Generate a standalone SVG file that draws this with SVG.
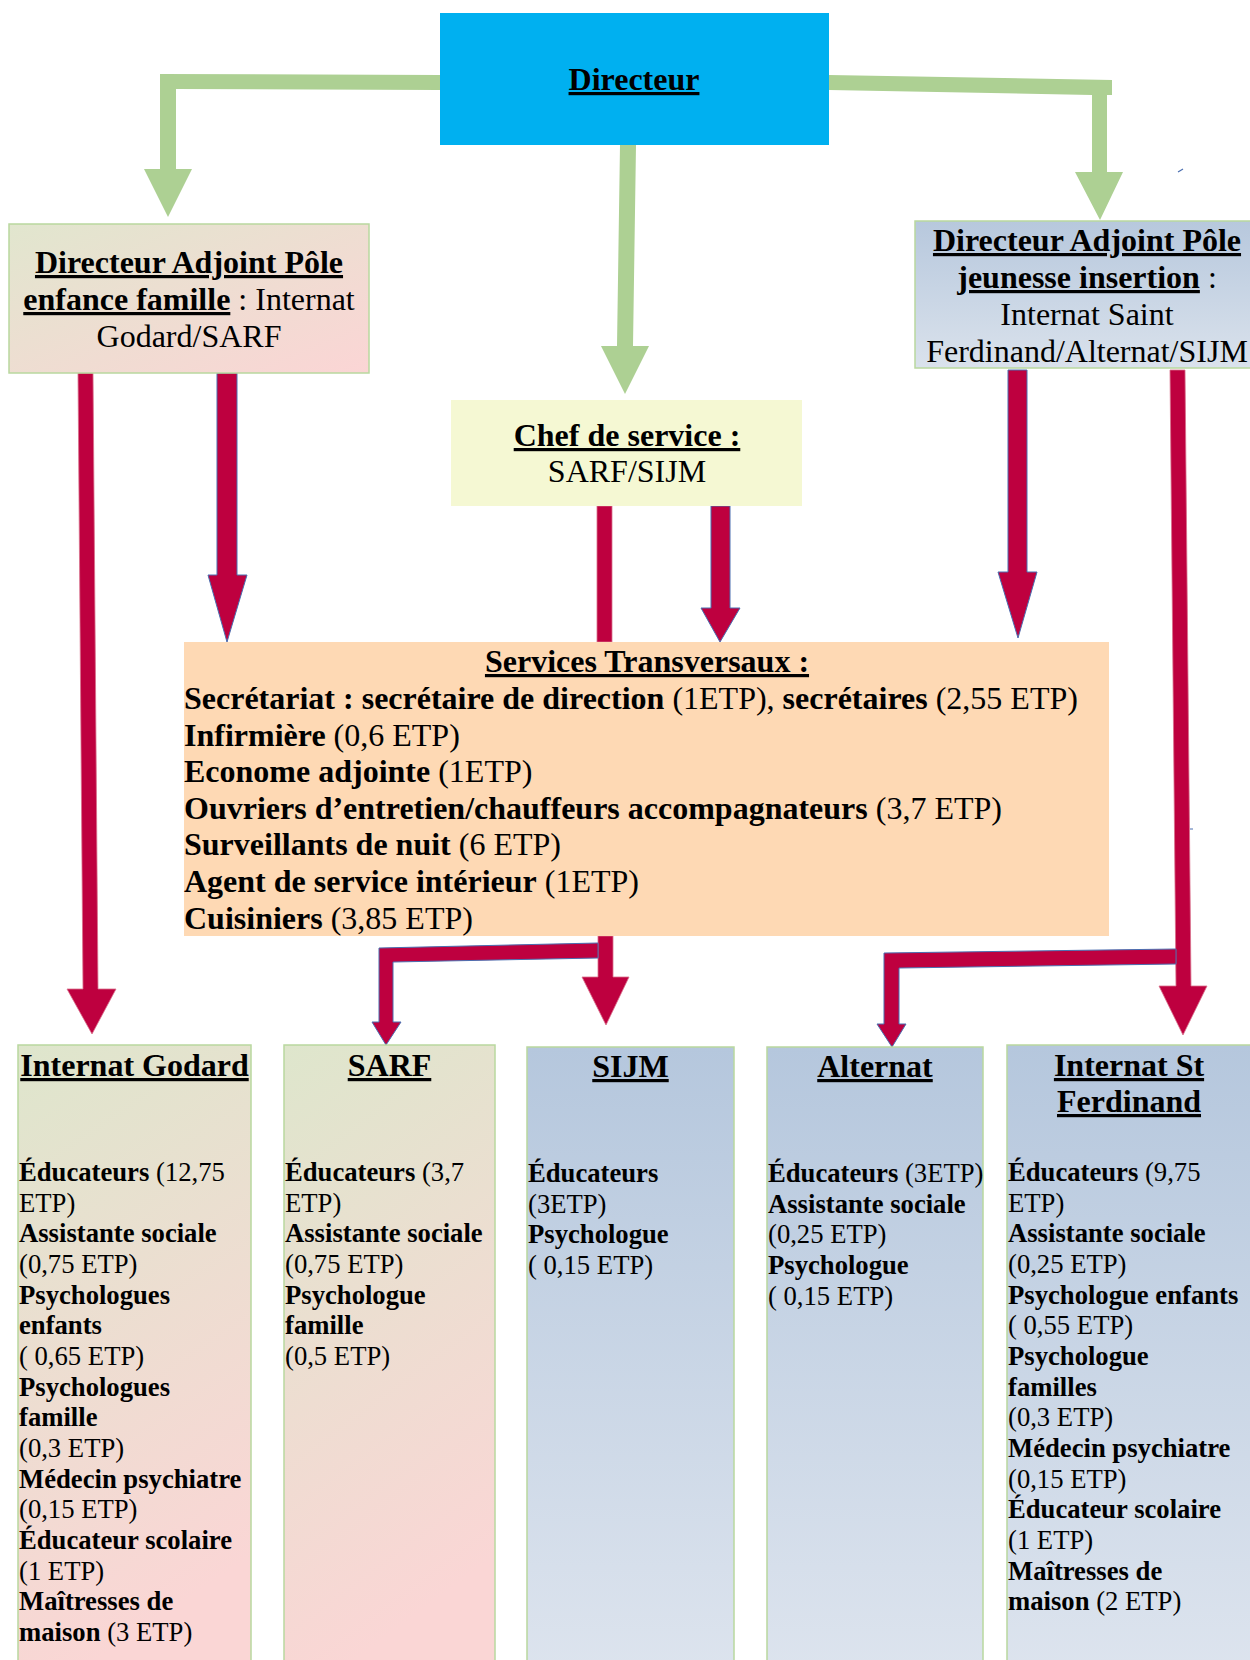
<svg xmlns="http://www.w3.org/2000/svg" width="1250" height="1660" viewBox="0 0 1250 1660">
<style>
text{font-family:"Liberation Serif","Times New Roman",serif;fill:#000}
.h{font-size:32px}
.s{font-size:26.67px}
.b{font-weight:bold}
.u{text-decoration:underline}
.m{text-anchor:middle}
.box{stroke:#B9D89F;stroke-width:1.5}
.green{fill:#ADD093}
.red{fill:#BE003F}
.rb{stroke:#4A6EB0;stroke-width:1}
.rp{stroke:#D8708C;stroke-width:0.8}
</style>
<defs>
<linearGradient id="gpDiag" x1="0" y1="0" x2="1" y2="1">
<stop offset="0" stop-color="#E1E6CE"/>
<stop offset="1" stop-color="#FBD5D5"/>
</linearGradient>
<linearGradient id="gpVert" x1="0" y1="0" x2="0.25" y2="1">
<stop offset="0" stop-color="#DEE6CC"/>
<stop offset="1" stop-color="#FAD6D5"/>
</linearGradient>
<linearGradient id="blueVert" x1="0" y1="0" x2="0" y2="1">
<stop offset="0" stop-color="#B5C7DD"/>
<stop offset="1" stop-color="#DDE4EE"/>
</linearGradient>
<linearGradient id="blueTop" x1="0" y1="0" x2="0" y2="1">
<stop offset="0" stop-color="#B7C8DD"/>
<stop offset="1" stop-color="#DAE2EC"/>
</linearGradient>
</defs>
<rect width="1250" height="1660" fill="#FFFFFF"/>

<g id="connectors">
<polygon class="green" points="440,75 160,74 160,169 144,169 168,217 192,169 176,169 176,89 440,90"/>
<polygon class="green" points="620,145 636,145 633,346 649,346 625,394 601,346 617,346"/>
<polygon class="green" points="829,75 1112,80 1112,95 1107,95 1107,172 1123,172 1100,220 1075,172 1092,172 1092,95 829,90"/>
<polygon class="red rp" points="78,373 93,373 98,989 116,989 92,1034 67,989 83,989"/>
<polygon class="red rb" points="217,373 237,373 237,575 247,575 227,642 208,575 217,575"/>
<rect class="red rp" x="597" y="506" width="15" height="136"/>
<polygon class="red rb" points="711,506 730,506 730,608 740,608 720,642 701,608 711,608"/>
<polygon class="red rb" points="1008,370 1027,370 1027,572 1037,572 1018,638 998,572 1008,572"/>
<polygon class="red rp" points="1170,370 1185,370 1191,986 1207,986 1183,1035 1159,986 1176,986"/>
<polygon class="red rb" points="1176,949 884,953 884,1024 877,1024 892,1047 906,1024 899,1024 899,968 1176,964"/>
<polygon class="red rp" points="598,936 613,936 613,977 629,977 606,1025 582,977 598,977"/>
<polygon class="red rb" points="598,943 379,948 379,1022 372,1022 386,1045 401,1022 393,1022 393,962 598,958"/>
<path d="M1178,172 L1183,169" stroke="#4A6EB0" stroke-width="1.2"/>
<path d="M1190,829 L1193,829" stroke="#4A6EB0" stroke-width="1"/>
</g>

<g id="directeur">
<rect x="440" y="13" width="389" height="132" fill="#00B0F0"/>
<text class="h b u m" x="634" y="90">Directeur</text>
</g>

<g id="da-enfance">
<rect class="box" x="9" y="224" width="360" height="149" fill="url(#gpDiag)"/>
<text class="h b u m" x="189" y="273">Directeur Adjoint Pôle</text>
<text class="h m" x="189" y="310"><tspan class="b u">enfance famille</tspan> : Internat</text>
<text class="h m" x="189" y="347">Godard/SARF</text>
</g>

<g id="da-jeunesse">
<rect class="box" x="915" y="221" width="345" height="147" fill="url(#blueTop)"/>
<text class="h b u m" x="1087" y="251">Directeur Adjoint Pôle</text>
<text class="h m" x="1087" y="288"><tspan class="b u">jeunesse insertion</tspan> :</text>
<text class="h m" x="1087" y="325">Internat Saint</text>
<text class="h m" x="1087" y="362">Ferdinand/Alternat/SIJM</text>
</g>

<g id="chef">
<rect x="451" y="400" width="351" height="106" fill="#F5F8D3"/>
<text class="h b u m" x="627" y="446">Chef de service :</text>
<text class="h m" x="627" y="482">SARF/SIJM</text>
</g>

<g id="services">
<rect x="184" y="642" width="925" height="294" fill="#FED9B4"/>
<text class="h b u m" x="647" y="672">Services Transversaux :</text>
<text class="h" x="184" y="709"><tspan class="b">Secrétariat : secrétaire de direction</tspan> (1ETP), <tspan class="b">secrétaires</tspan> (2,55 ETP)</text>
<text class="h" x="184" y="746"><tspan class="b">Infirmière</tspan> (0,6 ETP)</text>
<text class="h" x="184" y="782"><tspan class="b">Econome adjointe</tspan> (1ETP)</text>
<text class="h" x="184" y="819"><tspan class="b">Ouvriers d’entretien/chauffeurs accompagnateurs</tspan> (3,7 ETP)</text>
<text class="h" x="184" y="855"><tspan class="b">Surveillants de nuit</tspan> (6 ETP)</text>
<text class="h" x="184" y="892"><tspan class="b">Agent de service intérieur</tspan> (1ETP)</text>
<text class="h" x="184" y="929"><tspan class="b">Cuisiniers</tspan> (3,85 ETP)</text>
</g>

<g id="internat-godard">
<rect class="box" x="18" y="1045" width="233" height="630" fill="url(#gpVert)"/>
<text class="h b u m" x="134.5" y="1076">Internat Godard</text>
<text class="s" x="19" y="1181"><tspan class="b">Éducateurs</tspan> (12,75</text>
<text class="s" x="19" y="1211.7">ETP)</text>
<text class="s b" x="19" y="1242.3">Assistante sociale</text>
<text class="s" x="19" y="1273">(0,75 ETP)</text>
<text class="s b" x="19" y="1303.7">Psychologues</text>
<text class="s b" x="19" y="1334.3">enfants</text>
<text class="s" x="19" y="1365">( 0,65 ETP)</text>
<text class="s b" x="19" y="1395.7">Psychologues</text>
<text class="s b" x="19" y="1426.3">famille</text>
<text class="s" x="19" y="1457">(0,3 ETP)</text>
<text class="s b" x="19" y="1487.7">Médecin psychiatre</text>
<text class="s" x="19" y="1518.3">(0,15 ETP)</text>
<text class="s b" x="19" y="1549">Éducateur scolaire</text>
<text class="s" x="19" y="1579.7">(1 ETP)</text>
<text class="s b" x="19" y="1610.3">Maîtresses de</text>
<text class="s" x="19" y="1641"><tspan class="b">maison</tspan> (3 ETP)</text>
</g>

<g id="sarf">
<rect class="box" x="284" y="1045" width="211" height="630" fill="url(#gpVert)"/>
<text class="h b u m" x="389.5" y="1076">SARF</text>
<text class="s" x="285" y="1181"><tspan class="b">Éducateurs</tspan> (3,7</text>
<text class="s" x="285" y="1211.7">ETP)</text>
<text class="s b" x="285" y="1242.3">Assistante sociale</text>
<text class="s" x="285" y="1273">(0,75 ETP)</text>
<text class="s b" x="285" y="1303.7">Psychologue</text>
<text class="s b" x="285" y="1334.3">famille</text>
<text class="s" x="285" y="1365">(0,5 ETP)</text>
</g>

<g id="sijm">
<rect class="box" x="527" y="1047" width="207" height="630" fill="url(#blueVert)"/>
<text class="h b u m" x="630.5" y="1077">SIJM</text>
<text class="s b" x="528" y="1182">Éducateurs</text>
<text class="s" x="528" y="1212.7">(3ETP)</text>
<text class="s b" x="528" y="1243.3">Psychologue</text>
<text class="s" x="528" y="1274">( 0,15 ETP)</text>
</g>

<g id="alternat">
<rect class="box" x="767" y="1047" width="216" height="630" fill="url(#blueVert)"/>
<text class="h b u m" x="875" y="1077">Alternat</text>
<text class="s" x="768" y="1182"><tspan class="b">Éducateurs</tspan> (3ETP)</text>
<text class="s b" x="768" y="1212.7">Assistante sociale</text>
<text class="s" x="768" y="1243.3">(0,25 ETP)</text>
<text class="s b" x="768" y="1274">Psychologue</text>
<text class="s" x="768" y="1304.7">( 0,15 ETP)</text>
</g>

<g id="internat-st-ferdinand">
<rect class="box" x="1007" y="1045" width="250" height="630" fill="url(#blueVert)"/>
<text class="h b u m" x="1129" y="1076">Internat St</text>
<text class="h b u m" x="1129" y="1112">Ferdinand</text>
<text class="s" x="1008" y="1181"><tspan class="b">Éducateurs</tspan> (9,75</text>
<text class="s" x="1008" y="1211.7">ETP)</text>
<text class="s b" x="1008" y="1242.3">Assistante sociale</text>
<text class="s" x="1008" y="1273">(0,25 ETP)</text>
<text class="s b" x="1008" y="1303.7">Psychologue enfants</text>
<text class="s" x="1008" y="1334.3">( 0,55 ETP)</text>
<text class="s b" x="1008" y="1365">Psychologue</text>
<text class="s b" x="1008" y="1395.7">familles</text>
<text class="s" x="1008" y="1426.3">(0,3 ETP)</text>
<text class="s b" x="1008" y="1457">Médecin psychiatre</text>
<text class="s" x="1008" y="1487.7">(0,15 ETP)</text>
<text class="s b" x="1008" y="1518.3">Éducateur scolaire</text>
<text class="s" x="1008" y="1549">(1 ETP)</text>
<text class="s b" x="1008" y="1579.7">Maîtresses de</text>
<text class="s" x="1008" y="1610.3"><tspan class="b">maison</tspan> (2 ETP)</text>
</g>
</svg>
